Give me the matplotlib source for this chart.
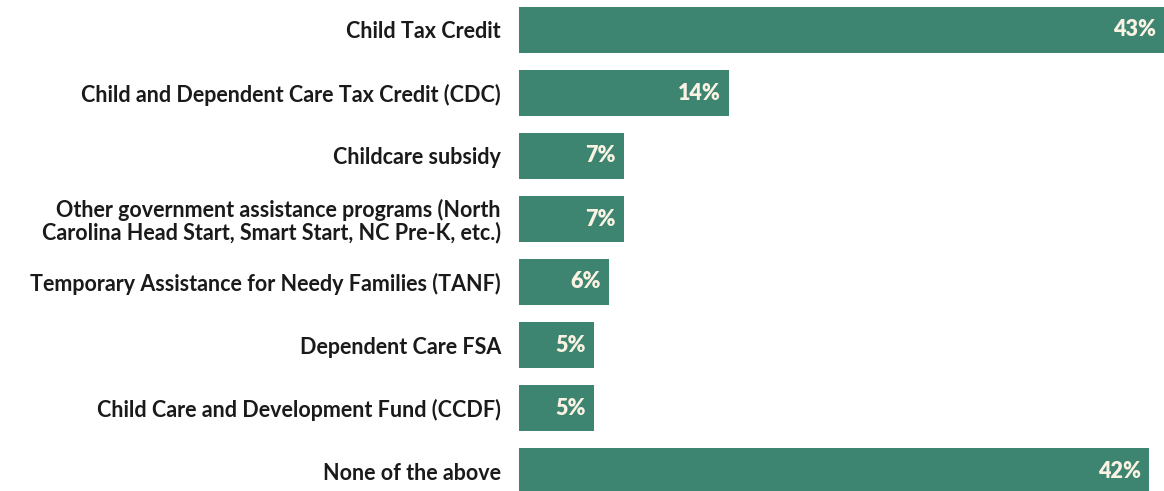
import matplotlib
matplotlib.use("Agg")
import matplotlib.pyplot as plt

categories = [
    "Child Tax Credit",
    "Child and Dependent Care Tax Credit (CDC)",
    "Childcare subsidy",
    "Other government assistance programs (North\nCarolina Head Start, Smart Start, NC Pre-K, etc.)",
    "Temporary Assistance for Needy Families (TANF)",
    "Dependent Care FSA",
    "Child Care and Development Fund (CCDF)",
    "None of the above",
]
values = [43, 14, 7, 7, 6, 5, 5, 42]
value_labels = [f"{v}%" for v in values]

BAR_COLOR = "#3d8570"
LABEL_COLOR = "#faf3e3"
TEXT_COLOR = "#1a1a1a"

W, H, DPI = 1164, 491, 100
fig = plt.figure(figsize=(W / DPI, H / DPI), dpi=DPI)
fig.patch.set_facecolor("white")

ax_left = 519 / W
ax = fig.add_axes([ax_left, 0, 1 - ax_left, 1])
ax.set_facecolor("white")

y = list(range(len(categories)))
ax.barh(y, values, height=0.73, color=BAR_COLOR)
ax.set_xlim(0, 43)
ax.set_ylim(7 + 20 / 63, -30 / 63)

for yi, v, lab in zip(y, values, value_labels):
    ax.annotate(lab, xy=(v, yi), xytext=(-6, 0), textcoords="offset points",
                ha="right", va="center", color=LABEL_COLOR,
                fontsize=15.5, fontweight="heavy", family="Lato")

ax.set_yticks(y)
ax.set_yticklabels(categories, fontsize=15.5, fontweight="bold", family="Lato",
                   color=TEXT_COLOR, multialignment="right", linespacing=1.0)
ax.tick_params(axis="y", length=0, pad=13)
ax.set_xticks([])
for s in ax.spines.values():
    s.set_visible(False)

fig.savefig("out.png", dpi=DPI)
